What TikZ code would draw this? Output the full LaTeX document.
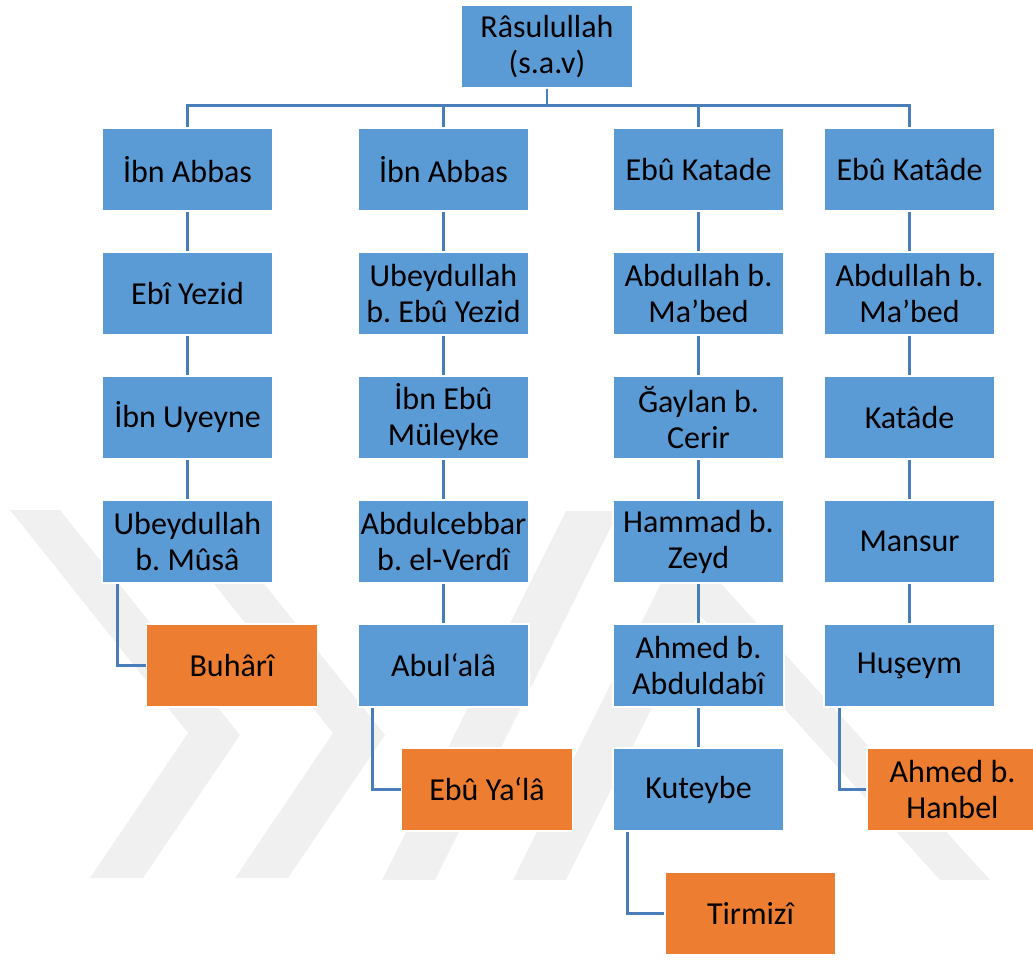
\documentclass[tikz,border=0pt]{standalone}
\usepackage{fontspec}
\setmainfont{Carlito}
\frenchspacing
\definecolor{boxblue}{RGB}{91,155,213}
\definecolor{boxorange}{RGB}{237,125,49}
\definecolor{linkblue}{RGB}{74,126,187}
\definecolor{wm}{RGB}{240,240,240}
\tikzset{
  person/.style={rectangle, fill=boxblue, draw=white, line width=1.2pt,
    minimum width=171pt, minimum height=83pt, inner sep=0pt, align=center,
    font=\fontsize{32}{36}\selectfont},
  leaf/.style={person, fill=boxorange},
  link/.style={draw=linkblue, line width=2.6pt},
  wmark/.style={fill=wm, draw=none}
}
\begin{document}
\begin{tikzpicture}[x=1pt,y=-1pt]
\useasboundingbox (0,0) rectangle (1033,960);
% faint watermark
\fill[wmark] (10,510) -- (60,510) -- (240,735) -- (143,878) -- (90,878) -- (188,733) -- cycle;
\fill[wmark] (155,510) -- (205,510) -- (385,735) -- (288,878) -- (235,878) -- (333,733) -- cycle;
\fill[wmark] (566,511) -- (619,511) -- (435,880) -- (382,880) -- cycle;
\fill[wmark] (697,511) -- (750,511) -- (566,880) -- (513,880) -- cycle;
\fill[wmark] (605,511) -- (655,511) -- (990,880) -- (940,880) -- cycle;

\node[person] (top) at (547,46.5) {Râsulullah\\(s.a.v)};

% column 1
\node[person] (a1) at (187.5,169.5) {İbn Abbas};
\node[person] (b1) at (187.5,293.5) {Ebî Yezid};
\node[person] (c1) at (187.5,417.5) {İbn Uyeyne};
\node[person] (d1) at (187.5,541.5) {Ubeydullah\\b. Mûsâ};
\node[leaf]   (l1) at (232,665.5) {Buhârî};

% column 2
\node[person] (a2) at (443.5,169.5) {İbn Abbas};
\node[person] (b2) at (443.5,293.5) {Ubeydullah\\b. Ebû Yezid};
\node[person] (c2) at (443.5,417.5) {İbn Ebû\\Müleyke};
\node[person] (d2) at (443.5,541.5) {Abdulcebbar\\b. el-Verdî};
\node[person] (e2) at (443.5,665.5) {Abul‘alâ};
\node[leaf]   (l2) at (487,789.5) {Ebû Ya‘lâ};

% column 3
\node[person] (a3) at (698.5,169.5) {Ebû Katade};
\node[person] (b3) at (698.5,293.5) {Abdullah b.\\Ma’bed};
\node[person] (c3) at (698.5,417.5) {Ğaylan b.\\Cerir};
\node[person] (d3) at (698.5,541.5) {Hammad b.\\Zeyd};
\node[person] (e3) at (698.5,665.5) {Ahmed b.\\Abduldabî};
\node[person] (f3) at (698.5,789.5) {Kuteybe};
\node[leaf]   (l3) at (750.5,913.5) {Tirmizî};

% column 4
\node[person] (a4) at (909.5,169.5) {Ebû Katâde};
\node[person] (b4) at (909.5,293.5) {Abdullah b.\\Ma’bed};
\node[person] (c4) at (909.5,417.5) {Katâde};
\node[person] (d4) at (909.5,541.5) {Mansur};
\node[person] (e4) at (909.5,665.5) {Huşeym};
\node[leaf]   (l4) at (952.5,789.5) {Ahmed b.\\Hanbel};

% bus from the top
\draw[link] (top.south) -- ++(0,18);
\draw[link] (a1.north) -- ++(0,-22) -| (a4.north);
\draw[link] (a2.north) -- ++(0,-22);
\draw[link] (a3.north) -- ++(0,-22);

% column chains
\draw[link] (a1) -- (b1);
\draw[link] (b1) -- (c1);
\draw[link] (c1) -- (d1);
\draw[link] (a2) -- (b2);
\draw[link] (b2) -- (c2);
\draw[link] (c2) -- (d2);
\draw[link] (d2) -- (e2);
\draw[link] (a3) -- (b3);
\draw[link] (b3) -- (c3);
\draw[link] (c3) -- (d3);
\draw[link] (d3) -- (e3);
\draw[link] (e3) -- (f3);
\draw[link] (a4) -- (b4);
\draw[link] (b4) -- (c4);
\draw[link] (c4) -- (d4);
\draw[link] (d4) -- (e4);

% elbows to the compilers
\draw[link] ([xshift=16pt]d1.south west) |- (l1.west);
\draw[link] ([xshift=15pt]e2.south west) |- (l2.west);
\draw[link] ([xshift=15pt]f3.south west) |- (l3.west);
\draw[link] ([xshift=16pt]e4.south west) |- (l4.west);
\end{tikzpicture}
\end{document}
